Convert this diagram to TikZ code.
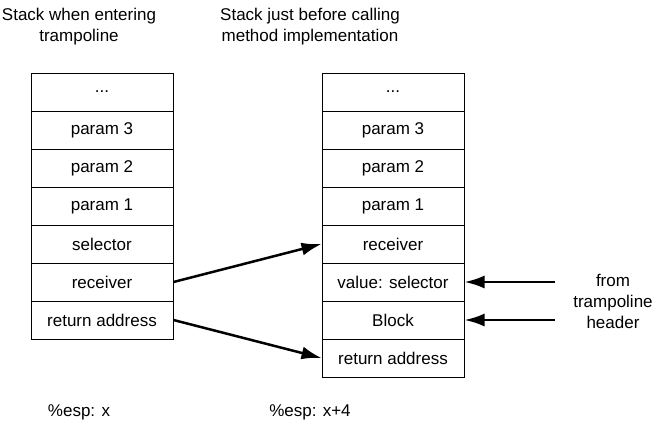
\documentclass[tikz,border=0pt]{standalone}
\usepackage{fontspec}
\setmainfont{Liberation Sans}
\usetikzlibrary{arrows.meta}

\begin{document}
\begin{tikzpicture}[x=1pt, y=-1pt, font=\fontsize{17}{21}\selectfont]
\tikzset{cell/.style={draw, line width=1pt, minimum width=142pt, minimum height=38pt, inner sep=0pt} }
\tikzset{caption/.style={align=center, inner sep=0pt} }
\tikzset{>={Latex[width=13pt,length=20pt]}}
\useasboundingbox (0,0) rectangle (662,426);
% titles
\node[caption] (ltitle) at (79,27)  {Stack when entering\\trampoline};
\node[caption] (rtitle) at (310,27) {Stack just before calling\\method implementation};
% stack on entry
\node[cell] (l1) at (102,92)  {...};
\node[cell] (l2) at (102,130) {param 3};
\node[cell] (l3) at (102,168) {param 2};
\node[cell] (l4) at (102,206) {param 1};
\node[cell] (l5) at (102,244) {selector};
\node[cell] (l6) at (102,282) {receiver};
\node[cell] (l7) at (102,320) {return address};
% stack before the call
\node[cell] (r1) at (393,92)  {...};
\node[cell] (r2) at (393,130) {param 3};
\node[cell] (r3) at (393,168) {param 2};
\node[cell] (r4) at (393,206) {param 1};
\node[cell] (r5) at (393,244) {receiver};
\node[cell] (r6) at (393,282) {value: selector};
\node[cell] (r7) at (393,320) {Block};
\node[cell] (r8) at (393,358) {return address};
% header
\node[caption] (hdr) at (613,301) {from\\trampoline\\header};
\coordinate (h1) at (555,282);
\coordinate (h2) at (555,320);
% esp
\node[caption] (lesp) at (79,412)  {\%esp: x};
\node[caption] (resp) at (310,412) {\%esp: x+4};
\path[->, line width=2.5pt] (l6.east) edge (r5.west);
\path[->, line width=2.5pt] (l7.east) edge (r8.west);
\path[->, line width=2.5pt] (h1) edge (r6.east);
\path[->, line width=2.5pt] (h2) edge (r7.east);
\end{tikzpicture}
\end{document}
